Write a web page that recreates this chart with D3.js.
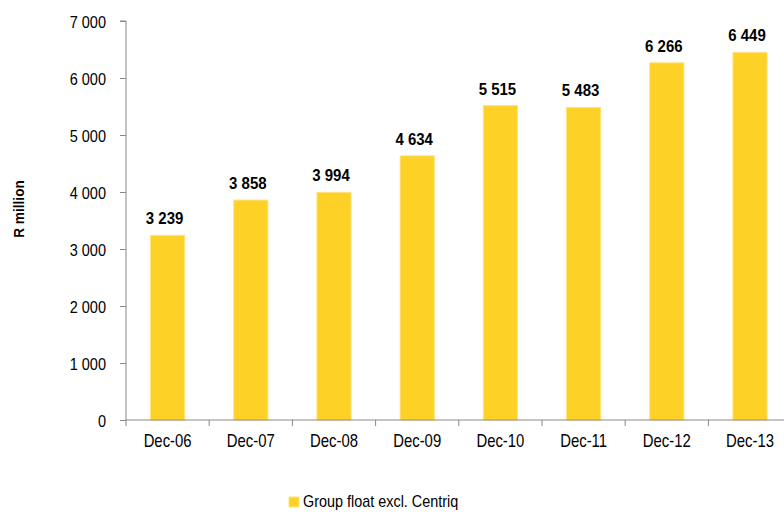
<!DOCTYPE html>
<html><head><meta charset="utf-8">
<script src="https://cdn.jsdelivr.net/npm/d3@7"></script>
<style>body{margin:0;background:#fff;}svg{display:block;font-family:"Liberation Sans",Arial,sans-serif;}</style>
</head><body>
<svg id="c" width="784" height="514"></svg>
<script>
const categories = ["Dec-06","Dec-07","Dec-08","Dec-09","Dec-10","Dec-11","Dec-12","Dec-13"];
const values = [3239,3858,3994,4634,5515,5483,6266,6449];
const yTicks = [0,1000,2000,3000,4000,5000,6000,7000];
const seriesName = "Group float excl. Centriq";
const yTitle = "R million";

(function(){
const svg = d3.select("#c");
const mLeft = 126, mTop = 21, mBottom = 420;
const bandW = 83.2;
const SX = 0.88;
const x = d3.scaleBand().domain(categories).range([mLeft, mLeft + bandW*categories.length]).paddingInner(0.59).paddingOuter(0.295);
const y = d3.scaleLinear().domain([0,7000]).range([mBottom, mTop]);
const fmt = v => d3.format(",")(v).replace(/,/g, " ");

svg.append("g").selectAll("rect").data(values).join("rect")
  .attr("x",(d,i)=>x(categories[i])).attr("width",x.bandwidth())
  .attr("y",d=>y(d)).attr("height",d=>y(0)-y(d))
  .attr("fill","#FED126").attr("stroke","#FFE27A").attr("stroke-width",1);

// y axis
const ya = svg.append("g").attr("transform",`translate(${mLeft},0)`)
  .call(d3.axisLeft(y).tickValues(yTicks).tickSize(6).tickPadding(13).tickFormat(fmt));
ya.select(".domain").attr("stroke","#888").attr("d",`M-6,${y(7000)}H0V${y(0)}`);
ya.selectAll(".tick line").attr("stroke","#888");
ya.selectAll(".tick text").attr("x",null).attr("dy",null)
  .attr("transform",`translate(-20,6) scale(${SX},1)`)
  .attr("font-size",16.5).attr("fill","#000").attr("font-family","'Liberation Sans',Arial,sans-serif");

// x axis
const xa = svg.append("g").attr("transform",`translate(0,${mBottom})`);
xa.append("line").attr("x1",mLeft).attr("x2",784).attr("y1",0).attr("y2",0).attr("stroke","#888");
const bounds = d3.range(categories.length+1).map(i=>mLeft+i*bandW);
xa.selectAll("line.t").data(bounds).join("line").attr("class","t")
  .attr("x1",d=>d).attr("x2",d=>d).attr("y1",0).attr("y2",6).attr("stroke","#888");
xa.selectAll("text").data(categories).join("text")
  .attr("transform",d=>`translate(${x(d)+x.bandwidth()/2},26.5) scale(0.85,1)`).attr("text-anchor","middle")
  .attr("font-size",17.5).attr("fill","#000").text(d=>d);

// value labels
svg.append("g").selectAll("text").data(values).join("text")
  .attr("transform",(d,i)=>`translate(${x(categories[i])+x.bandwidth()/2-3},${y(d)-11}) scale(0.92,1)`)
  .attr("text-anchor","middle").attr("font-size",16.3).attr("font-weight","bold").attr("fill","#000")
  .text(fmt);

// y title
svg.append("text").attr("transform","translate(24,209) rotate(-90) scale(0.91,1)").attr("text-anchor","middle")
  .attr("font-size",15).attr("font-weight","bold").attr("fill","#000").text(yTitle);

// legend
const lg = svg.append("g").attr("transform","translate(289,497)");
lg.append("rect").attr("x",0).attr("y",0).attr("width",10).attr("height",10).attr("fill","#FED126").attr("stroke","#FFE27A");
lg.append("text").attr("transform",`translate(14,10) scale(0.9,1)`).attr("font-size",16).attr("fill","#000").text(seriesName);
})();
</script>
</body></html>
